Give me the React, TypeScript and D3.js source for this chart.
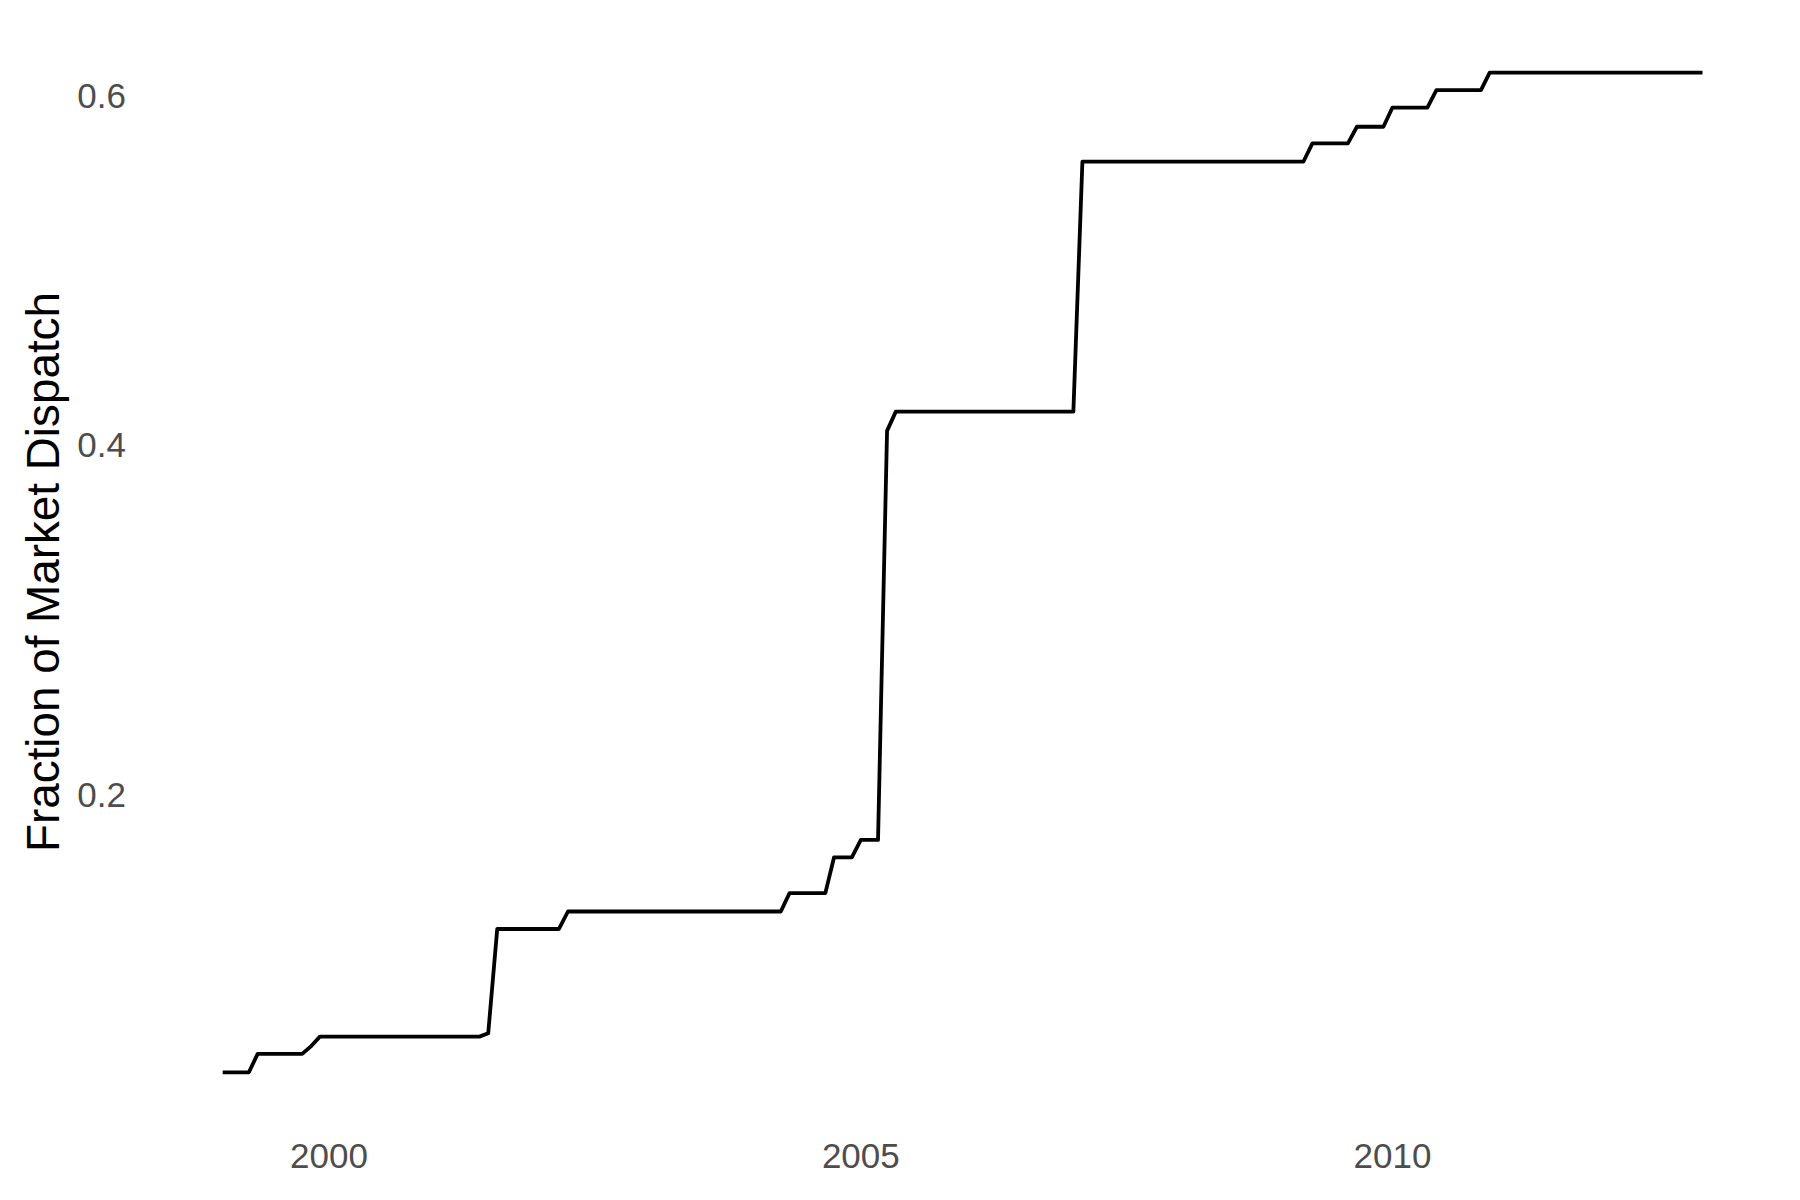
import { useRef, useEffect } from 'react';
import * as d3 from 'd3';

// step points of the series (month, fraction)
const months: string[] = [
    '1999-01', '1999-04', '1999-05', '1999-10', '1999-11', '1999-12',
    '2001-06', '2001-07', '2001-08', '2002-03', '2002-04',
    '2004-04', '2004-05', '2004-09', '2004-10', '2004-12', '2005-01',
    '2005-03', '2005-04', '2005-05', '2007-01', '2007-02',
    '2009-03', '2009-04', '2009-08', '2009-09', '2009-12', '2010-01',
    '2010-05', '2010-06', '2010-11', '2010-12', '2012-12',
];
const fractions: number[] = [
    0.041, 0.041, 0.0515, 0.0515, 0.056, 0.0614,
    0.0614, 0.0633, 0.123, 0.123, 0.133,
    0.133, 0.1435, 0.1435, 0.164, 0.164, 0.174,
    0.174, 0.408, 0.419, 0.419, 0.562,
    0.562, 0.5725, 0.5725, 0.582, 0.582, 0.593,
    0.593, 0.603, 0.603, 0.613, 0.613,
];
const yTicks: number[] = [0.2, 0.4, 0.6];
const xTickYears: number[] = [2000, 2005, 2010];

export default function App() {
    const svgRef = useRef<SVGSVGElement>(null);

    useEffect(() => {
        if (!svgRef.current) return;
        const width = 1800;
        const height = 1200;

        d3.select(svgRef.current).selectAll('*').remove();
        const svg = d3.select(svgRef.current)
            .attr('width', width)
            .attr('height', height);

        const parse = d3.timeParse('%Y-%m');
        const data = months.map((m, i) => ({ date: parse(m) as Date, value: fractions[i] }));

        const x = d3.scaleTime()
            .domain([parse('1999-01') as Date, parse('2012-12') as Date])
            .range([222.7, 1702.5]);

        const y = d3.scaleLinear()
            .domain([0.2, 0.6])
            .range([794.4, 95.3]);

        const font = '"Liberation Sans", Arial, sans-serif';

        // y tick labels
        svg.append('g')
            .selectAll('text')
            .data(yTicks)
            .enter()
            .append('text')
            .attr('x', 126)
            .attr('y', d => y(d))
            .attr('dy', '0.35em')
            .attr('text-anchor', 'end')
            .attr('fill', '#4D4D4D')
            .style('font-family', font)
            .style('font-size', '35px')
            .text(d => d.toFixed(1));

        // x tick labels
        svg.append('g')
            .selectAll('text')
            .data(xTickYears)
            .enter()
            .append('text')
            .attr('x', d => x(new Date(d, 0, 1)))
            .attr('y', 1168)
            .attr('text-anchor', 'middle')
            .attr('fill', '#4D4D4D')
            .style('font-family', font)
            .style('font-size', '35px')
            .text(d => String(d));

        // y axis title
        svg.append('text')
            .attr('transform', `translate(59, 572) rotate(-90)`)
            .attr('text-anchor', 'middle')
            .attr('fill', '#000')
            .style('font-family', font)
            .style('font-size', '45.8px')
            .text('Fraction of Market Dispatch');

        // line
        const line = d3.line<{ date: Date; value: number }>()
            .x(d => x(d.date))
            .y(d => y(d.value));

        svg.append('path')
            .datum(data)
            .attr('d', line)
            .attr('fill', 'none')
            .attr('stroke', '#000')
            .attr('stroke-width', 3.8)
            .attr('stroke-linejoin', 'round');
    }, []);

    return (
        <div style={{ position: 'absolute', left: 0, top: 0, width: 1800, height: 1200, background: '#fff' }}>
            <svg ref={svgRef}></svg>
        </div>
    );
}
